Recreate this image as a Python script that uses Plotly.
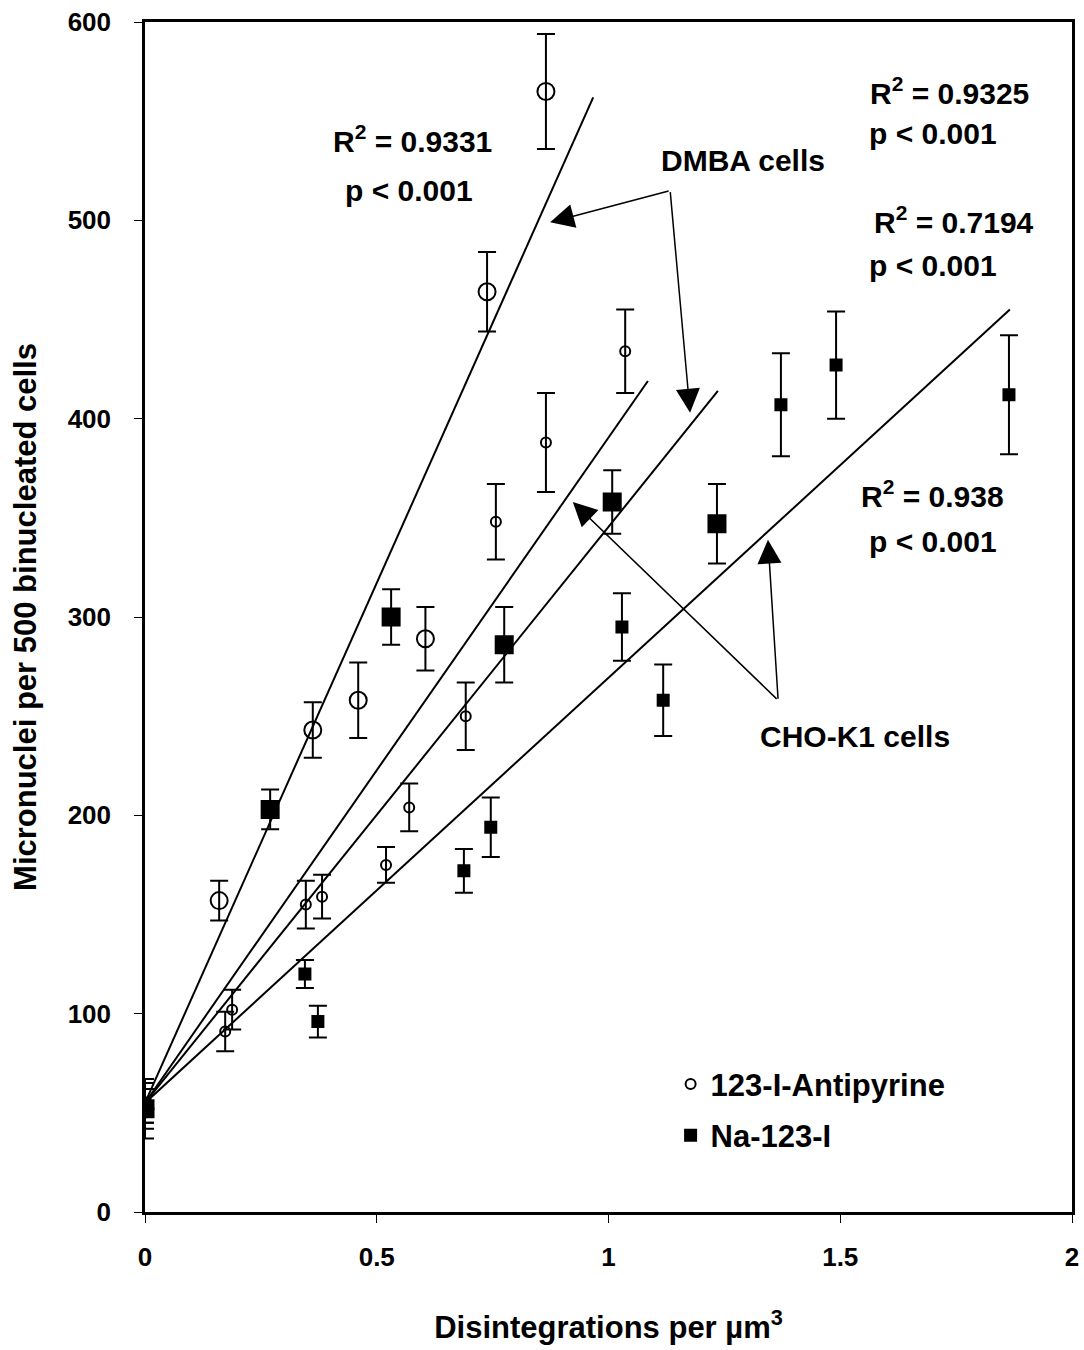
import plotly.graph_objects as go

# ---- data ----
# DMBA cells, 123-I-Antipyrine (large open circles)
dmba_ap_x = [0.0, 0.16, 0.362, 0.46, 0.605, 0.738, 0.865]
dmba_ap_y = [52, 157, 243, 258, 289, 464, 565]
dmba_ap_e = [10, 10, 14, 19, 16, 20, 29]

# DMBA cells, Na-123-I (large filled squares)
dmba_na_x = [0.0, 0.27, 0.531, 0.775, 1.008, 1.234]
dmba_na_y = [52, 203, 300, 286, 358, 347]
dmba_na_e = [15, 10, 14, 19, 16, 20]

# CHO-K1 cells, 123-I-Antipyrine (small open circles)
cho_ap_x = [0.0, 0.173, 0.188, 0.347, 0.382, 0.52, 0.57, 0.692, 0.757, 0.865, 1.036]
cho_ap_y = [55, 91, 102, 155, 159, 175, 204, 250, 348, 388, 434]
cho_ap_e = [10, 10, 10, 12, 11, 9, 12, 17, 19, 25, 21]

# CHO-K1 cells, Na-123-I (small filled squares)
cho_na_x = [0.0, 0.345, 0.373, 0.688, 0.746, 1.029, 1.118, 1.372, 1.491, 1.864]
cho_na_y = [55, 120, 96, 172, 194, 295, 258, 407, 427, 412]
cho_na_e = [10, 7, 8, 11, 15, 17, 18, 26, 27, 30]

# Regression lines (start / end points)
trend_x0 = [0.0, 0.0, 0.0, 0.0]
trend_y0 = [55, 55, 55, 55]
trend_x1 = [0.967, 1.085, 1.236, 1.866]
trend_y1 = [562, 419, 414, 455]

x_ticks = [0, 0.5, 1, 1.5, 2]
x_tick_labels = ["0", "0.5", "1", "1.5", "2"]
y_ticks = [0, 100, 200, 300, 400, 500, 600]

FONT = "Liberation Sans, Arial, sans-serif"

fig = go.Figure()

for i in range(len(trend_x0)):
    fig.add_trace(go.Scatter(
        x=[trend_x0[i], trend_x1[i]], y=[trend_y0[i], trend_y1[i]],
        mode="lines", line=dict(color="black", width=2),
        showlegend=False, hoverinfo="skip"))

def add_series(xs, ys, es, symbol, size, name, show, group):
    fig.add_trace(go.Scatter(
        x=xs, y=ys, mode="markers", name=name, showlegend=show,
        legendgroup=group,
        marker=dict(symbol=symbol, size=size, color="black",
                    line=dict(color="black", width=2)),
        error_y=dict(type="data", array=es, visible=True,
                     color="black", thickness=2, width=9)))

add_series(dmba_ap_x, dmba_ap_y, dmba_ap_e, "circle-open", 17, "123-I-Antipyrine", False, "a")
add_series(dmba_na_x, dmba_na_y, dmba_na_e, "square", 17, "Na-123-I", False, "b")
add_series(cho_ap_x, cho_ap_y, cho_ap_e, "circle-open", 10, "<b>123-I-Antipyrine</b>", True, "a")
add_series(cho_na_x, cho_na_y, cho_na_e, "square", 11, "<b>Na-123-I</b>", True, "b")

ann_font = dict(family=FONT, size=30, color="black")

texts = [
    (0.578, 541, "<b>R<sup>2</sup> = 0.9331</b>"),
    (0.570, 515, "<b>p < 0.001</b>"),
    (1.29, 530, "<b>DMBA cells</b>"),
    (1.735, 565, "<b>R<sup>2</sup> = 0.9325</b>"),
    (1.70, 544, "<b>p < 0.001</b>"),
    (1.745, 500, "<b>R<sup>2</sup> = 0.7194</b>"),
    (1.70, 477, "<b>p < 0.001</b>"),
    (1.70, 362, "<b>R<sup>2</sup> = 0.938</b>"),
    (1.70, 338, "<b>p < 0.001</b>"),
    (1.532, 240, "<b>CHO-K1 cells</b>"),
]
for x, y, t in texts:
    fig.add_annotation(x=x, y=y, text=t, showarrow=False, font=ann_font,
                       xref="x", yref="y")

# arrows: (tail_x, tail_y, tip_x, tip_y)
arrows = [
    (1.133, 515, 0.874, 499),
    (1.133, 515, 1.176, 403),
    (1.366, 258, 0.923, 358),
    (1.366, 258, 1.344, 339),
]
for tx, ty, hx, hy in arrows:
    fig.add_annotation(x=hx, y=hy, ax=tx, ay=ty, xref="x", yref="y",
                       axref="x", ayref="y", text="", showarrow=True,
                       arrowhead=2, arrowsize=3.2, arrowwidth=1.5,
                       arrowcolor="black")

fig.update_layout(
    width=1084, height=1350,
    margin=dict(l=145, r=12, t=22, b=138),
    paper_bgcolor="white", plot_bgcolor="white",
    font=dict(family=FONT, color="black", size=26, weight="bold"),
    legend=dict(x=0.567, y=0.13, xanchor="left", yanchor="top",
                font=dict(family=FONT, size=31),
                bgcolor="rgba(0,0,0,0)", itemwidth=30, tracegroupgap=8),
    xaxis=dict(range=[0, 2], tickvals=x_ticks, ticktext=x_tick_labels,
               automargin=False,
               showgrid=False, zeroline=False, showline=True, linecolor="black",
               linewidth=2.5, mirror=True, ticks="outside", ticklen=8,
               tickcolor="black", tickwidth=1, ticklabelstandoff=12,
               tickfont=dict(family=FONT, size=26, weight="bold"),
               title=dict(text="Disintegrations per µm<sup>3</sup>", standoff=46,
                          font=dict(family=FONT, size=31, weight="bold"))),
    yaxis=dict(range=[0, 600], tickvals=y_ticks, automargin=False,
               showgrid=False, zeroline=False, showline=True, linecolor="black",
               linewidth=2.5, mirror=True, ticks="outside", ticklen=8,
               tickcolor="black", tickwidth=1, ticklabelstandoff=18,
               tickfont=dict(family=FONT, size=26, weight="bold"),
               title=dict(text="Micronuclei per 500 binucleated cells", standoff=22,
                          font=dict(family=FONT, size=31, weight="bold"))),
)

fig.write_html("out.html")
